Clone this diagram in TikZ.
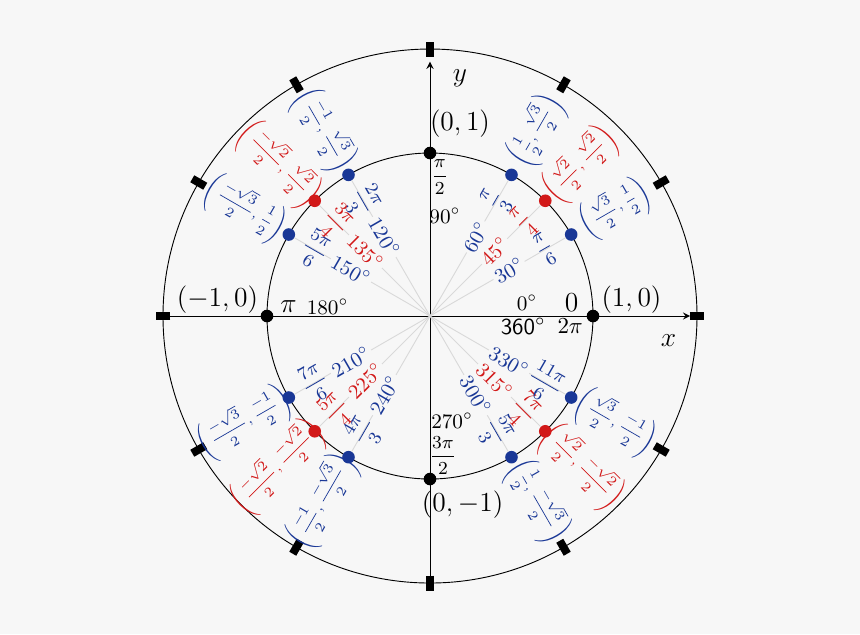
\documentclass[tikz,border=0pt]{standalone}
\usepackage{amsmath}
\definecolor{bgc}{RGB}{247,247,247}
\definecolor{cblue}{RGB}{25,55,150}
\definecolor{cred}{RGB}{210,25,25}
\tikzset{
  ray/.style={gray!30, thin},
  dot/.style={circle, fill=#1, inner sep=0pt, minimum size=5.5pt},
  tick/.style={line width=3.5pt},
  lab/.style={inner sep=1pt}
}
\begin{document}
\begin{tikzpicture}
 \fill[bgc] (-6.595,-4.877) rectangle (6.595,4.847);
 \useasboundingbox (-6.595,-4.877) rectangle (6.595,4.847);
 \coordinate (O) at (0,0);

 % circles and axes
 \draw[thin] (O) circle (2.5);
 \draw[thin] (O) circle (4.095);
 \coordinate (xl) at (-4.19,0); \coordinate (xr) at (3.99,0);
 \coordinate (yb) at (0,-4.13); \coordinate (yt) at (0,3.9);
 \draw[thin,-stealth] (xl) -- (xr);
 \draw[thin,-stealth] (yb) -- (yt);
 \node (xn) at (3.66,-0.38) {\large $x$};
 \node (yn) at (0.46,3.65) {\large $y$};

 % ticks on the outer circle
 \foreach \a in {0,30,...,330}
   \draw[tick] (\a:3.98) -- (\a:4.21);

 % points on the axes
 \foreach \a in {0,90,180,270}
   \node[dot=black] (p\a) at (\a:2.5) {};

 % rays, points and labels
 \foreach \a/\rad/\co/\c in {
   30/{\dfrac{\pi}{6}}/{\left(\dfrac{\sqrt{3}}{2},\dfrac{1}{2}\right)}/cblue,
   45/{\dfrac{\pi}{4}}/{\left(\dfrac{\sqrt{2}}{2},\dfrac{\sqrt{2}}{2}\right)}/cred,
   60/{\dfrac{\pi}{3}}/{\left(\dfrac{1}{2},\dfrac{\sqrt{3}}{2}\right)}/cblue,
   120/{\dfrac{2\pi}{3}}/{\left(\dfrac{-1}{2},\dfrac{\sqrt{3}}{2}\right)}/cblue,
   135/{\dfrac{3\pi}{4}}/{\left(\dfrac{-\sqrt{2}}{2},\dfrac{\sqrt{2}}{2}\right)}/cred,
   150/{\dfrac{5\pi}{6}}/{\left(\dfrac{-\sqrt{3}}{2},\dfrac{1}{2}\right)}/cblue,
   210/{\dfrac{7\pi}{6}}/{\left(\dfrac{-\sqrt{3}}{2},\dfrac{-1}{2}\right)}/cblue,
   225/{\dfrac{5\pi}{4}}/{\left(\dfrac{-\sqrt{2}}{2},\dfrac{-\sqrt{2}}{2}\right)}/cred,
   240/{\dfrac{4\pi}{3}}/{\left(\dfrac{-1}{2},\dfrac{-\sqrt{3}}{2}\right)}/cblue,
   300/{\dfrac{5\pi}{3}}/{\left(\dfrac{1}{2},\dfrac{-\sqrt{3}}{2}\right)}/cblue,
   315/{\dfrac{7\pi}{4}}/{\left(\dfrac{\sqrt{2}}{2},\dfrac{-\sqrt{2}}{2}\right)}/cred,
   330/{\dfrac{11\pi}{6}}/{\left(\dfrac{\sqrt{3}}{2},\dfrac{-1}{2}\right)}/cblue} {
   \pgfmathsetmacro\rot{\a<90?\a:(\a<270?\a-180:\a-360)}
   \node[dot=\c] (p\a) at (\a:2.5) {};
   \draw[ray] (O) -- (p\a);
   \node[lab, fill=bgc, text=\c, rotate=\rot, font=\small] (d\a) at (\a:1.4) {$\a^\circ$};
   \node[lab, text=\c, rotate=\rot, font=\footnotesize] (r\a) at (\a:2.04) {$\rad$};
   \node[lab, text=\c, rotate=\rot, font=\fontsize{6.3}{7}\selectfont] (c\a) at (\a:3.28) {$\co$};
 }

 % axis labels
 \node (d0) at (1.49,0.2) {\small $0^\circ$};
 \node (r0) at (2.17,0.2) {\large $0$};
 \node (s0) at (1.43,-0.16) {\textsf{360}$^\circ$};
 \node (t0) at (2.15,-0.16) {$2\pi$};
 \node (c0) at (3.09,0.25) {\large $(1,0)$};
 \node (r90) at (0.15,2.13) {\footnotesize $\dfrac{\pi}{2}$};
 \node (d90) at (0.23,1.54) {\small $90^\circ$};
 \node (c90) at (0.46,2.95) {\large $(0,1)$};
 \node (r180) at (-2.17,0.14) {\large $\pi$};
 \node (d180) at (-1.57,0.14) {\small $180^\circ$};
 \node (c180) at (-3.26,0.25) {\large $(-1,0)$};
 \node (d270) at (0.34,-1.6) {\small $270^\circ$};
 \node (r270) at (0.2,-2.14) {\footnotesize $\dfrac{3\pi}{2}$};
 \node (c270) at (0.5,-2.9) {\large $(0,-1)$};
\end{tikzpicture}
\end{document}
